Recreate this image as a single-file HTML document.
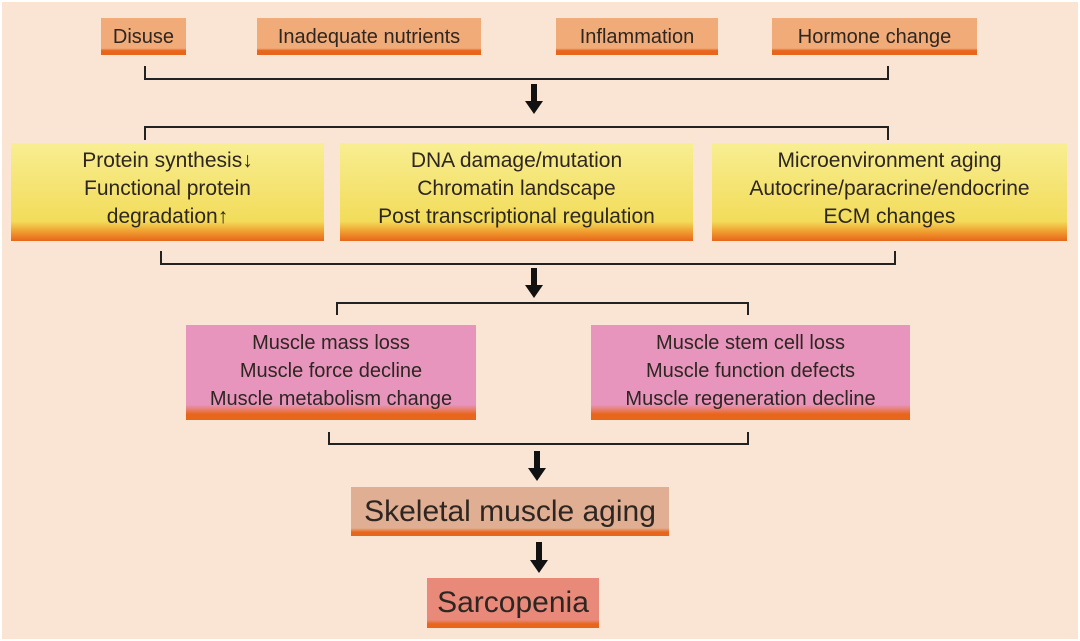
<!DOCTYPE html>
<html><head><meta charset="utf-8"><style>
body{margin:0;width:1080px;height:641px;background:#fff;position:relative;overflow:hidden;font-family:"Liberation Sans",sans-serif;color:#2e2620}
#bg{position:absolute;left:2px;top:2px;width:1076px;height:637px;background:#fae5d5}
.b{position:absolute;box-sizing:border-box;text-align:center;display:flex;flex-direction:column;justify-content:center;align-items:center;line-height:1.2}
.t{background:linear-gradient(#f0ab79 0,#f0ab79 82%,#e8661c 88%,#e8661c 100%);font-size:20px}
.y{background:linear-gradient(#f8ee92 0%,#f2dc5a 80%,#f0a030 90%,#e8661c 100%);font-size:21px;line-height:28px;padding-bottom:6px}
.p{background:linear-gradient(#e795bd 0,#e795bd 84%,#e8661c 94%,#e8661c 100%);font-size:20px;line-height:28px;padding-bottom:4px}
.s{background:linear-gradient(#e0ae92 0,#e0ae92 84%,#e8661c 92%,#e8661c 100%);font-size:30px}
.r{background:linear-gradient(#e8897a 0,#e8897a 84%,#e8661c 92%,#e8661c 100%);font-size:30px}
</style></head><body>
<div id="bg"></div>
<div class="b t" style="left:101px;top:18px;width:85px;height:37px">Disuse</div>
<div class="b t" style="left:257px;top:18px;width:224px;height:37px">Inadequate nutrients</div>
<div class="b t" style="left:556px;top:18px;width:162px;height:37px">Inflammation</div>
<div class="b t" style="left:772px;top:18px;width:205px;height:37px">Hormone change</div>
<div class="b y" style="left:11px;top:143px;width:313px;height:98px">Protein synthesis↓<br>Functional protein<br>degradation↑</div>
<div class="b y" style="left:340px;top:143px;width:353px;height:98px">DNA damage/mutation<br>Chromatin landscape<br>Post transcriptional regulation</div>
<div class="b y" style="left:712px;top:143px;width:355px;height:98px">Microenvironment aging<br>Autocrine/paracrine/endocrine<br>ECM changes</div>
<div class="b p" style="left:186px;top:325px;width:290px;height:95px">Muscle mass loss<br>Muscle force decline<br>Muscle metabolism change</div>
<div class="b p" style="left:591px;top:325px;width:319px;height:95px">Muscle stem cell loss<br>Muscle function defects<br>Muscle regeneration decline</div>
<div class="b s" style="left:351px;top:487px;width:318px;height:49px">Skeletal muscle aging</div>
<div class="b r" style="left:427px;top:578px;width:172px;height:50px">Sarcopenia</div>
<svg width="1080" height="641" style="position:absolute;left:0;top:0">
<g fill="none" stroke="#222" stroke-width="2">
<path d="M145 66V79H888V66"/>
<path d="M145 140V127H888V140"/>
<path d="M161 251V264H895V251"/>
<path d="M337 315V303H748V315"/>
<path d="M329 432V444H748V432"/>
</g>
<g fill="#111">
<path d="M531 84h6v17h6l-9 13l-9-13h6z"/>
<path d="M531 268h6v17h6l-9 13l-9-13h6z"/>
<path d="M534 451h6v17h6l-9 13l-9-13h6z"/>
<path d="M536 542h6v18h6l-9 13l-9-13h6z"/>
</g>
</svg>
</body></html>
